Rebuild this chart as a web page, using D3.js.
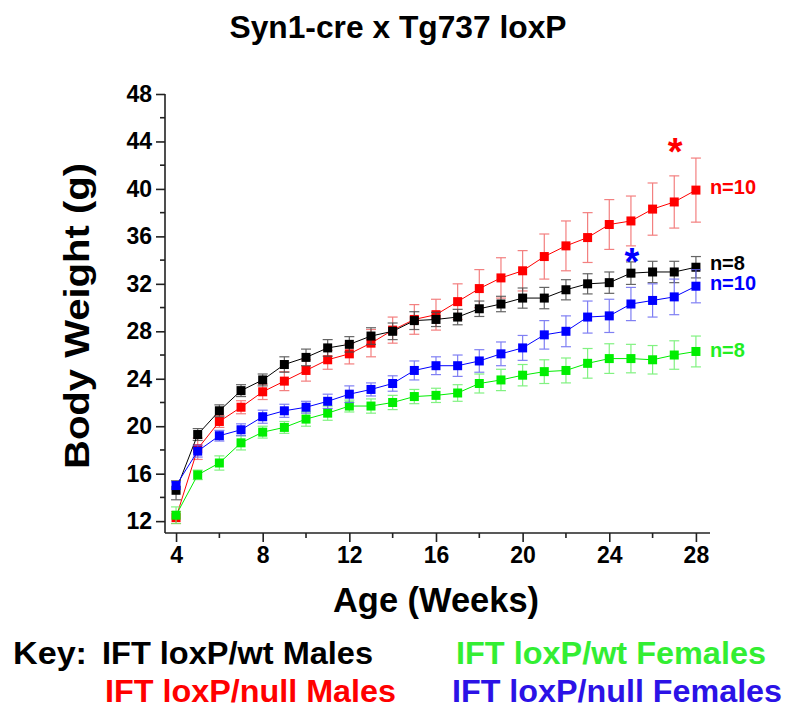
<!DOCTYPE html>
<html>
<head>
<meta charset="utf-8">
<script src="https://cdn.jsdelivr.net/npm/d3@7"></script>
<style>
  html, body { margin: 0; padding: 0; background: #fff; }
  svg { display: block; font-family: "Liberation Sans", Arial, sans-serif; }
</style>
</head>
<body>
<svg id="chart" width="800" height="716"></svg>
<script>
// ---------- data ----------
const weeks = [4,5,6,7,8,9,10,11,12,13,14,15,16,17,18,19,20,21,22,23,24,25,26,27,28];

const wtMales      = [14.6,19.3,21.3,23.0,23.9,25.2,25.8,26.6,26.9,27.6,28.0,28.9,29.0,29.2,29.9,30.3,30.8,30.8,31.5,32.0,32.1,32.9,33.0,33.0,33.4];
const wtMalesErr   = [0.8,0.5,0.5,0.5,0.5,0.65,0.7,0.7,0.65,0.7,0.7,0.75,0.6,0.65,0.65,0.65,0.85,0.9,0.85,0.85,0.9,0.95,0.9,0.9,0.9];

const nullMales    = [12.3,18.1,20.4,21.6,22.9,23.8,24.7,25.6,26.1,27.0,28.1,29.0,29.4,30.5,31.6,32.5,33.1,34.3,35.2,35.9,37.0,37.3,38.3,38.9,39.9];
const nullMalesErr = [0.5,0.9,0.5,0.55,0.65,0.8,0.9,0.8,0.85,1.15,1.1,1.25,1.3,1.5,1.6,1.7,1.7,1.9,2.1,2.1,2.1,2.1,2.2,2.2,2.7];

const wtFemales    = [12.5,15.9,16.9,18.6,19.5,19.9,20.6,21.1,21.7,21.7,22.0,22.5,22.6,22.8,23.6,23.9,24.3,24.6,24.7,25.3,25.7,25.7,25.6,26.0,26.3];
const wtFemalesErr = [0.7,0.4,0.6,0.6,0.5,0.5,0.6,0.6,0.5,0.6,0.6,0.6,0.6,0.7,0.8,0.9,0.9,1.0,1.05,1.25,1.25,1.2,1.2,1.2,1.3];

const nullFemales    = [15.0,17.9,19.2,19.7,20.8,21.3,21.6,22.1,22.7,23.1,23.6,24.7,25.1,25.1,25.5,26.1,26.6,27.7,28.0,29.2,29.3,30.3,30.6,30.9,31.8];
const nullFemalesErr = [0.3,0.5,0.45,0.5,0.55,0.55,0.5,0.6,0.7,0.55,0.65,0.8,0.75,0.9,0.95,1.0,1.05,1.2,1.3,1.35,1.4,1.4,1.4,1.5,1.4];

const xTicks = [4,8,12,16,20,24,28];
const yTicks = [12,16,20,24,28,32,36,40,44,48];

const seriesNames  = ["IFT loxP/null Males","IFT loxP/wt Males","IFT loxP/wt Females","IFT loxP/null Females"];
const seriesColors = ["#ff0000","#000000","#00ee00","#0000ff"];
const nLabels      = ["n=10","n=8","n=8","n=10"];
const nLabelY      = [39.55,33.2,25.8,31.45];   // baseline positions (g)
const starWeeks    = [27,25];
const starY        = [43.7,34.4];               // centre positions (g)
const starColors   = ["#ff0000","#0000ff"];

// ---------- layout ----------
const svg = d3.select("#chart");
const x = d3.scaleLinear().domain([3.49, 28.65]).range([165, 710]);
const y = d3.scaleLinear().domain([11, 48]).range([533, 94]);

const series = [
  {name: seriesNames[0], color: seriesColors[0], vals: nullMales,   err: nullMalesErr,   errColor: "#f26a6a"},
  {name: seriesNames[1], color: seriesColors[1], vals: wtMales,     err: wtMalesErr,     errColor: "#4a4a4a"},
  {name: seriesNames[2], color: seriesColors[2], vals: wtFemales,   err: wtFemalesErr,   errColor: "#6cf06c"},
  {name: seriesNames[3], color: seriesColors[3], vals: nullFemales, err: nullFemalesErr, errColor: "#6a6af2"}
];

// title
svg.append("text").attr("x", 398).attr("y", 38)
  .attr("text-anchor", "middle").attr("font-size", 32).attr("font-weight", "bold")
  .attr("textLength", 337).attr("lengthAdjust", "spacingAndGlyphs")
  .text("Syn1-cre x Tg737 loxP");

// axes
const xAxis = d3.axisBottom(x).tickValues(xTicks).tickSize(9).tickPadding(5).tickSizeOuter(0);
const yAxis = d3.axisLeft(y).tickValues(yTicks).tickSize(9).tickPadding(4).tickSizeOuter(0);

const gx = svg.append("g").attr("transform", `translate(0,${y.range()[0]})`).call(xAxis);
const gy = svg.append("g").attr("transform", `translate(${x.range()[0]},0)`).call(yAxis);
[gx, gy].forEach(g => {
  g.select(".domain").attr("stroke", "#222").attr("stroke-width", 1.6);
  g.selectAll(".tick line").attr("stroke", "#222").attr("stroke-width", 1.6);
  g.selectAll(".tick text").attr("font-size", 23).attr("font-weight", "bold")
    .attr("font-family", "Liberation Sans, Arial, sans-serif").attr("fill", "#000");
});
gx.select(".domain").attr("d", `M${x.range()[0]},0H${x.range()[1]}`);
gy.select(".domain").attr("d", `M0,${y.range()[0]}V${y.range()[1]}`);

// minor ticks
const xMinor = d3.range(6, 29, 4);
const yMinor = d3.range(14, 47, 4);
svg.append("g").selectAll("line").data(xMinor).join("line")
  .attr("x1", d => x(d)).attr("x2", d => x(d))
  .attr("y1", y.range()[0]).attr("y2", y.range()[0] + 5)
  .attr("stroke", "#222").attr("stroke-width", 1.6);
svg.append("g").selectAll("line").data(yMinor).join("line")
  .attr("y1", d => y(d)).attr("y2", d => y(d))
  .attr("x1", x.range()[0]).attr("x2", x.range()[0] - 5)
  .attr("stroke", "#222").attr("stroke-width", 1.6);

// axis labels
svg.append("text").attr("x", 436).attr("y", 612)
  .attr("text-anchor", "middle").attr("font-size", 35).attr("font-weight", "bold")
  .attr("textLength", 206).attr("lengthAdjust", "spacingAndGlyphs")
  .text("Age (Weeks)");
svg.append("text").attr("transform", "translate(89,316) rotate(-90)")
  .attr("text-anchor", "middle").attr("font-size", 35).attr("font-weight", "bold")
  .attr("textLength", 306).attr("lengthAdjust", "spacingAndGlyphs")
  .text("Body Weight (g)");

// series
const line = d3.line().x((d, i) => x(weeks[i])).y(d => y(d));
const plot = svg.append("g");
series.forEach(s => {
  const g = plot.append("g");
  const eb = g.append("g").attr("stroke", s.errColor).attr("stroke-width", 1.2).attr("opacity", 0.85);
  s.vals.forEach((v, i) => {
    const cx = x(weeks[i]), t = y(v + s.err[i]), b = y(v - s.err[i]);
    eb.append("line").attr("x1", cx).attr("x2", cx).attr("y1", t).attr("y2", b);
    eb.append("line").attr("x1", cx - 5).attr("x2", cx + 5).attr("y1", t).attr("y2", t);
    eb.append("line").attr("x1", cx - 5).attr("x2", cx + 5).attr("y1", b).attr("y2", b);
  });
  g.append("path").datum(s.vals).attr("d", line)
    .attr("fill", "none").attr("stroke", s.color).attr("stroke-width", 1);
  g.selectAll("rect").data(s.vals).join("rect")
    .attr("x", (d, i) => x(weeks[i]) - 4.5).attr("y", d => y(d) - 4.5)
    .attr("width", 9).attr("height", 9).attr("fill", s.color);
});

// n labels
const nColors = ["#ff0000","#000000","#22ee22","#0000ff"];
nLabels.forEach((t, i) => {
  svg.append("text").attr("x", x(28) + 14).attr("y", y(nLabelY[i]))
    .attr("font-size", 20).attr("font-weight", "bold").attr("fill", nColors[i]).text(t);
});

// significance stars
starWeeks.forEach((w, i) => {
  svg.append("text").attr("x", x(w) + 1).attr("y", y(starY[i]) + 20)
    .attr("text-anchor", "middle").attr("font-size", 38).attr("font-weight", "bold")
    .attr("fill", starColors[i]).text("*");
});

// key
const keyFont = 31;
svg.append("text").attr("x", 13).attr("y", 664).attr("font-size", keyFont).attr("font-weight", "bold")
  .attr("textLength", 74).attr("lengthAdjust", "spacingAndGlyphs").text("Key:");
const keyItems = [
  {text: seriesNames[1], x: 102, y: 664, w: 271, c: "#000000"},
  {text: seriesNames[0], x: 105, y: 702, w: 291, c: "#ff0000"},
  {text: seriesNames[2], x: 456, y: 664, w: 310, c: "#33ee33"},
  {text: seriesNames[3], x: 452, y: 702, w: 330, c: "#2b12e6"}
];
keyItems.forEach(k => {
  svg.append("text").attr("x", k.x).attr("y", k.y).attr("font-size", keyFont).attr("font-weight", "bold")
    .attr("fill", k.c).attr("textLength", k.w).attr("lengthAdjust", "spacingAndGlyphs").text(k.text);
});
</script>
</body>
</html>
